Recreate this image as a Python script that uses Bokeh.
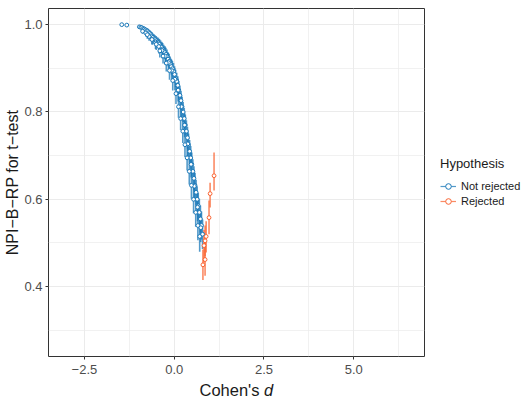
from bokeh.plotting import figure
from bokeh.layouts import row, column
from bokeh.models import (FixedTicker, CustomJSTickFormatter, Legend, LegendItem,
                          Label, ColumnDataSource, Range1d)
from bokeh.embed import file_html
from bokeh.resources import INLINE

# ---- data: Not rejected (Cohen's d, NPI-B-RP, half interval) ----
x_nr = [-1.46, -1.32, -0.97, -0.93, -0.90, -0.86, -0.83, -0.80, -0.77, -0.74,
        -0.71, -0.68, -0.65, -0.62, -0.59, -0.56, -0.53, -0.50, -0.47, -0.44,
        -0.41, -0.38, -0.35, -0.32, -0.29, -0.26, -0.23, -0.20, -0.17, -0.14,
        -0.11, -0.08, -0.05, -0.02, 0.01, 0.04, 0.07, 0.10, 0.13, 0.16,
        0.19, 0.22, 0.25, 0.28, 0.31, 0.34, 0.37, 0.40, 0.43, 0.46,
        0.49, 0.52, 0.55, 0.58, 0.61, 0.64, 0.67, 0.70, 0.73, 0.76,
        -0.88, -0.79, -0.70, -0.61, -0.52, -0.43, -0.34, -0.25, -0.16, -0.07,
        0.02, 0.11, 0.20, 0.29, 0.38, 0.47, 0.56, 0.65, 0.74, 0.79,
        -0.75, -0.62, -0.50, -0.40, -0.31, -0.22, -0.13, -0.04, 0.05, 0.12,
        0.18, 0.24, 0.30, 0.36, 0.42, 0.48, 0.54, 0.60, 0.66, 0.71]
y_nr = [1.000, 0.999, 0.995, 0.994, 0.993, 0.991, 0.990, 0.988, 0.986, 0.985,
        0.982, 0.980, 0.977, 0.974, 0.971, 0.968, 0.966, 0.963, 0.960, 0.958,
        0.955, 0.951, 0.948, 0.944, 0.940, 0.936, 0.932, 0.927, 0.921, 0.916,
        0.910, 0.904, 0.899, 0.893, 0.886, 0.877, 0.870, 0.861, 0.850, 0.838,
        0.826, 0.812, 0.800, 0.785, 0.770, 0.756, 0.741, 0.725, 0.710, 0.695,
        0.680, 0.664, 0.648, 0.632, 0.616, 0.600, 0.585, 0.570, 0.555, 0.540,
        0.985, 0.981, 0.973, 0.966, 0.958, 0.950, 0.941, 0.928, 0.913, 0.895,
        0.875, 0.850, 0.812, 0.770, 0.727, 0.680, 0.630, 0.582, 0.535, 0.520,
        0.977, 0.966, 0.955, 0.940, 0.928, 0.912, 0.895, 0.872, 0.842, 0.812,
        0.785, 0.756, 0.725, 0.695, 0.664, 0.632, 0.600, 0.570, 0.540, 0.515]
err_nr = [0.000, 0.001, 0.003, 0.004, 0.004, 0.005, 0.005, 0.006, 0.006, 0.007,
          0.007, 0.008, 0.008, 0.009, 0.009, 0.010, 0.010, 0.011, 0.011, 0.012,
          0.012, 0.013, 0.013, 0.014, 0.014, 0.015, 0.015, 0.016, 0.016, 0.017,
          0.017, 0.018, 0.018, 0.019, 0.019, 0.020, 0.020, 0.021, 0.021, 0.022,
          0.022, 0.023, 0.023, 0.024, 0.024, 0.025, 0.025, 0.026, 0.026, 0.027,
          0.027, 0.028, 0.028, 0.029, 0.029, 0.030, 0.030, 0.031, 0.031, 0.032,
          0.006, 0.008, 0.010, 0.012, 0.014, 0.016, 0.018, 0.020, 0.022, 0.024,
          0.025, 0.026, 0.027, 0.028, 0.029, 0.030, 0.031, 0.032, 0.033, 0.034,
          0.009, 0.011, 0.013, 0.015, 0.017, 0.019, 0.021, 0.023, 0.024, 0.025,
          0.026, 0.027, 0.028, 0.029, 0.030, 0.031, 0.032, 0.033, 0.034, 0.035]

# ---- data: Rejected ----
x_r = [0.80, 0.86, 0.83, 0.86, 0.89, 0.97, 1.00, 1.11]
y_r = [0.450, 0.462, 0.494, 0.505, 0.515, 0.558, 0.613, 0.654]
lo_r = [0.415, 0.425, 0.455, 0.470, 0.478, 0.520, 0.581, 0.620]
hi_r = [0.485, 0.500, 0.530, 0.540, 0.550, 0.597, 0.638, 0.707]

x_ticks = [-2.5, 0.0, 2.5, 5.0]
x_minor = [-1.25, 1.25, 3.75, 6.25]
y_ticks = [0.4, 0.6, 0.8, 1.0]
y_minor = [0.3, 0.5, 0.7, 0.9]
groups = ["Not rejected", "Rejected"]

BLUE = "#1A78B8"
ORANGE = "#FA6432"
FONT = "Liberation Sans"
DARK = "#1A1A1A"

src_nr = ColumnDataSource(dict(x=x_nr, y=y_nr,
                               lo=[a - b for a, b in zip(y_nr, err_nr)],
                               hi=[a + b for a, b in zip(y_nr, err_nr)]))
src_r = ColumnDataSource(dict(x=x_r, y=y_r, lo=lo_r, hi=hi_r))
sources = [src_nr, src_r]
colors = [BLUE, ORANGE]

# ---------------- main panel ----------------
p = figure(frame_width=376, frame_height=348,
           x_range=Range1d(-3.5, 6.97), y_range=Range1d(0.24, 1.037),
           output_backend="svg", toolbar_location=None,
           min_border_left=48, min_border_right=2, min_border_top=8, min_border_bottom=23)
p.background_fill_color = "white"
p.border_fill_color = "white"
p.outline_line_color = "#333333"
p.outline_line_width = 1

xt = FixedTicker(ticks=x_ticks, minor_ticks=x_minor)
yt = FixedTicker(ticks=y_ticks, minor_ticks=y_minor)
p.xaxis.ticker = xt
p.yaxis.ticker = yt
p.xgrid.ticker = xt
p.ygrid.ticker = yt
for g in (p.xgrid, p.ygrid):
    g.grid_line_color = "#EBEBEB"
    g.grid_line_width = 1
    g.minor_grid_line_color = "#EBEBEB"
    g.minor_grid_line_width = 0.7

fmt = CustomJSTickFormatter(code="return tick.toFixed(1).replace('-', '\u2212');")
p.xaxis.formatter = fmt
p.yaxis.formatter = fmt
for ax in (p.xaxis, p.yaxis):
    ax.axis_line_color = None
    ax.major_tick_line_color = "#333333"
    ax.major_tick_out = 3
    ax.major_tick_in = 0
    ax.minor_tick_line_color = None
    ax.major_label_text_font = FONT
    ax.major_label_text_font_size = "13px"
    ax.major_label_text_color = "#4D4D4D"
    ax.major_label_standoff = 2
    ax.axis_label_text_font = FONT
    ax.axis_label_text_font_size = "16px"
    ax.axis_label_text_font_style = "normal"
    ax.axis_label_text_color = DARK
p.xaxis.major_label_standoff = 4
p.yaxis.axis_label = "NPI\u2212B\u2212RP for t\u2212test"
p.yaxis.axis_label_standoff = 0

for src, col in zip(sources, colors):
    p.segment(x0="x", y0="lo", x1="x", y1="hi", source=src, line_color=col,
              line_width=1.6, line_alpha=0.75)
for src, col in zip(sources, colors):
    p.scatter(x="x", y="y", source=src, marker="circle", size=3.8,
              fill_color="white", line_color=col, line_width=1)

# ---------------- legend panel ----------------
# ranges chosen so the proxy renderers draw nothing; they only feed the legend
lf = figure(width=97, height=379, x_range=Range1d(50, 51), y_range=Range1d(50, 51),
            output_backend="svg", toolbar_location=None,
            min_border_left=0, min_border_right=0, min_border_top=0, min_border_bottom=0)
lf.axis.visible = False
lf.grid.visible = False
lf.outline_line_color = None
lf.background_fill_color = "white"
lf.border_fill_color = "white"
items = []
for name, src, col in zip(groups, sources, colors):
    s = lf.segment(x0="x", y0="lo", x1="x", y1="hi", source=src, line_color=col,
                   line_width=1.2, line_alpha=0.75)
    c = lf.scatter(x="x", y="y", source=src, marker="circle", size=3.8,
                   fill_color="white", line_color=col, line_width=1)
    items.append(LegendItem(label=name, renderers=[s, c]))
legend = Legend(items=items, location=(14, 148), title="Hypothesis")
legend.title_text_font = FONT
legend.title_text_font_size = "13px"
legend.title_text_font_style = "normal"
legend.title_text_color = DARK
legend.label_text_font = FONT
legend.label_text_font_size = "11px"
legend.label_text_color = DARK
legend.border_line_color = None
legend.background_fill_alpha = 0
legend.glyph_width = 16
legend.glyph_height = 14
legend.label_height = 14
legend.spacing = 1
legend.margin = 0
legend.padding = 8
legend.label_standoff = 5
legend.title_standoff = 8
lf.add_layout(legend, "center")

# ---------------- x-axis title strip ----------------
xf = figure(width=523, height=22, x_range=Range1d(0, 523), y_range=Range1d(0, 22),
            output_backend="svg", toolbar_location=None,
            min_border_left=0, min_border_right=0, min_border_top=0, min_border_bottom=0)
xf.axis.visible = False
xf.grid.visible = False
xf.outline_line_color = None
xf.background_fill_color = "white"
xf.border_fill_color = "white"
xf.add_layout(Label(x=259, y=12, text="Cohen's", text_align="right",
                    text_baseline="middle", text_font=FONT,
                    text_font_size="16.5px", text_color=DARK))
xf.add_layout(Label(x=263.6, y=12, text="d", text_align="left",
                    text_baseline="middle", text_font=FONT,
                    text_font_size="16.5px", text_font_style="italic", text_color=DARK))

layout = column(row(p, lf, spacing=0), xf, spacing=0)
open("out.html", "w").write(file_html(layout, INLINE))
